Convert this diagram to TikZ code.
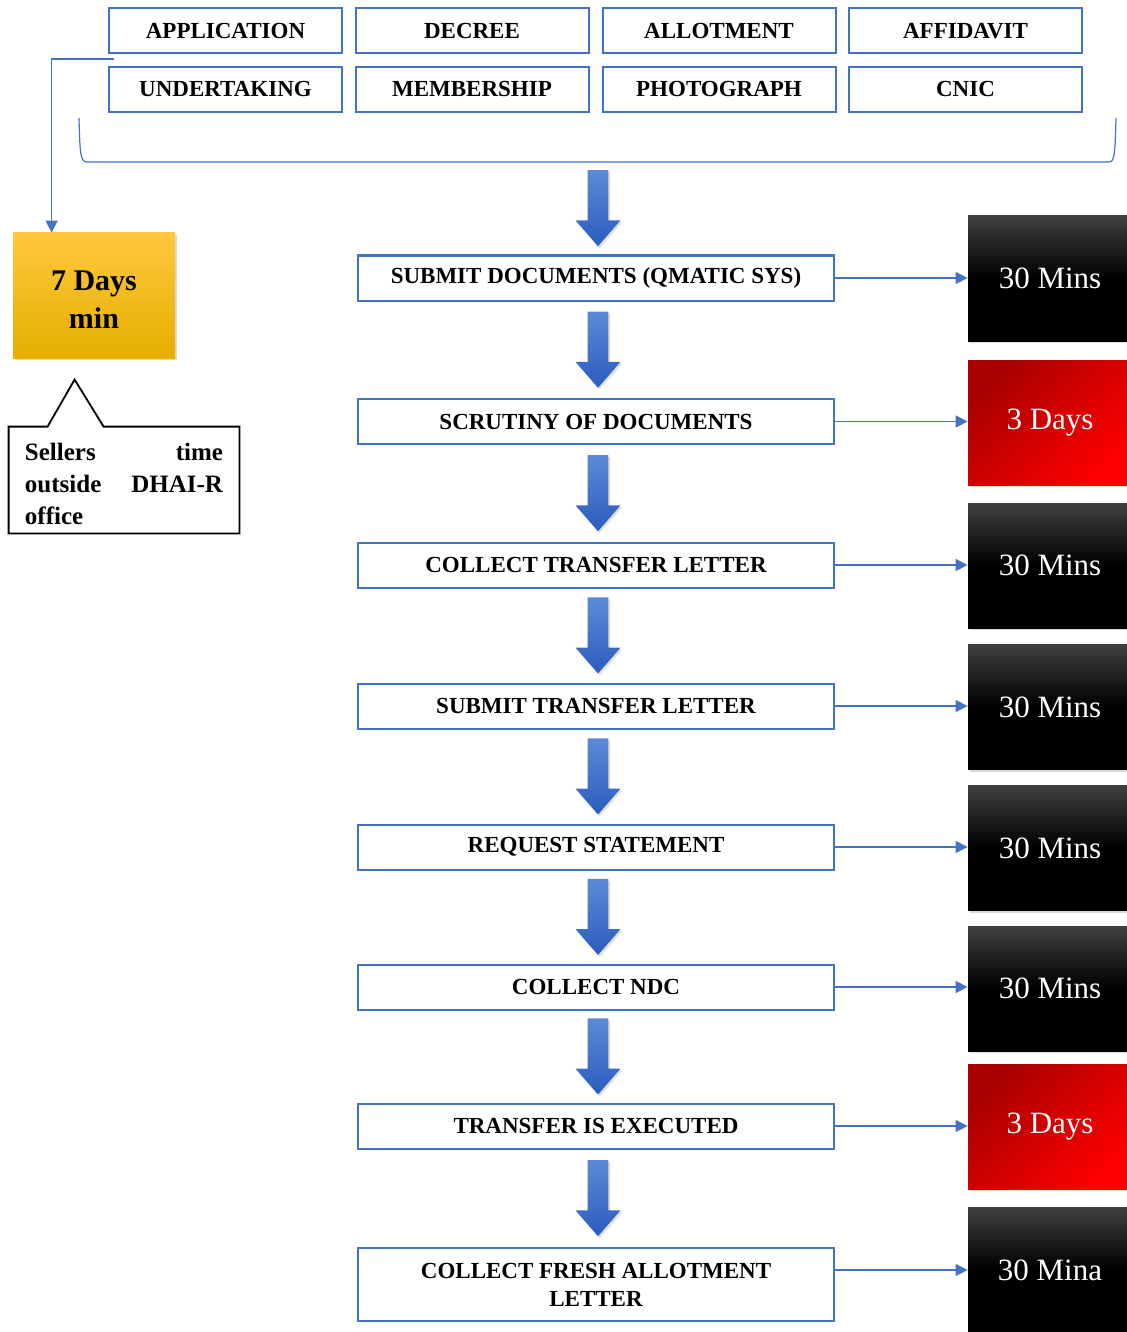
\documentclass[tikz,border=0pt]{standalone}
\usepackage{fontspec}
\setmainfont{Liberation Serif}
\usetikzlibrary{arrows.meta,shapes.arrows,shadows,calc}
\definecolor{boxblue}{HTML}{4472C4}
\definecolor{arrowtop}{HTML}{5B8AD6}
\definecolor{arrowbot}{HTML}{2C5CBE}
\definecolor{goldtop}{HTML}{FFC83D}
\definecolor{goldbot}{HTML}{E5AE00}
\definecolor{redtop}{HTML}{A80000}

\begin{document}
\begin{tikzpicture}[x=0.5pt, y=-0.5pt,
    doc/.style={draw=boxblue, line width=1pt, minimum width=116.5pt, minimum height=22.5pt, inner sep=0pt, font=\bfseries\fontsize{11.5}{14}\selectfont},
    stage/.style={doc, minimum width=238pt, align=center},
    tbox/.style={minimum width=82pt, minimum height=62.5pt, inner sep=0pt, text=white, font=\fontsize{15.5}{18}\selectfont, drop shadow={shadow xshift=0.8pt, shadow yshift=-1.2pt, opacity=0.3}},
    mins/.style={tbox, top color=black!75, bottom color=black, middle color=black},
    days/.style={tbox, left color=redtop, right color=red, shading angle=45},
    fatarrow/.style={single arrow, shape border rotate=270, minimum height=38pt, inner sep=5pt, single arrow head extend=6pt, single arrow tip angle=82, yshift=3pt, top color=arrowtop, bottom color=arrowbot, drop shadow={shadow xshift=0.8pt, shadow yshift=-1pt, opacity=0.25}},
    link/.style={draw=boxblue, line width=0.7pt, -{Triangle[length=6pt,width=6pt]}}]

    \useasboundingbox (0,0) rectangle (1126,1332);

    \node[doc] (app) at (225.5,31) {APPLICATION};
    \node[doc] (decree) at (472,31) {DECREE};
    \node[doc] (allot) at (719,31) {ALLOTMENT};
    \node[doc] (affid) at (965.5,31) {AFFIDAVIT};
    \node[doc] (undert) at (225.5,89.5) {UNDERTAKING};
    \node[doc] (member) at (472,89.5) {MEMBERSHIP};
    \node[doc] (photo) at (719,89.5) {PHOTOGRAPH};
    \node[doc] (cnic) at (965.5,89.5) {CNIC};

    \draw[boxblue, line width=0.6pt] (79,118) .. controls (80,152) and (80,162) .. (87,162) -- (1109,162) .. controls (1115,162) and (1115,152) .. (1116,118);
    \coordinate (br) at (598,162);
    \coordinate (split) at (114,59);

    \node[top color=goldtop, bottom color=goldbot, minimum width=81pt, minimum height=62.5pt, align=center, font=\bfseries\fontsize{15}{19}\selectfont, drop shadow={shadow xshift=0.8pt, shadow yshift=-1.2pt, opacity=0.3}] (wait) at (94,295.5) {\rule{0pt}{14pt}7 Days\\min};
    \node[minimum width=115pt, minimum height=53pt, text width=99pt, align=left, inner sep=0pt, font=\bfseries\fontsize{12.5}{16}\selectfont] (note) at (124,480) {\rule{0pt}{13pt}Sellers\hfill time\\outside\hfill DHAI-R\\office};
    \draw[line width=0.9pt] (note.north west) -- ($(note.north west)+(39,0)$) -- ($(note.north west)+(66,-47)$) -- ($(note.north west)+(95,0)$) -- (note.north east) -- (note.south east) -- (note.south west) -- cycle;

    \draw[link] (split) -| ([xshift=19.5pt]wait.north west);

    \node[stage] (s1) at (596,278) {SUBMIT DOCUMENTS (QMATIC SYS)};
    \node[stage] (s2) at (596,421.5) {SCRUTINY OF DOCUMENTS};
    \node[stage] (s3) at (596,565) {COLLECT TRANSFER LETTER};
    \node[stage] (s4) at (596,706) {SUBMIT TRANSFER LETTER};
    \node[stage] (s5) at (596,847) {REQUEST STATEMENT};
    \node[stage] (s6) at (596,987) {COLLECT NDC};
    \node[stage] (s7) at (596,1126) {TRANSFER IS EXECUTED};
    \node[stage, minimum height=36.5pt] (s8) at (596,1284.5) {COLLECT FRESH ALLOTMENT\\LETTER};

    \node[mins] (t1) at (1050,278.5) {30 Mins};
    \node[days] (t2) at (1050,422.5) {3 Days};
    \node[mins] (t3) at (1050,565.5) {30 Mins};
    \node[mins] (t4) at (1050,707) {30 Mins};
    \node[mins] (t5) at (1050,848) {30 Mins};
    \node[mins] (t6) at (1050,988.5) {30 Mins};
    \node[days] (t7) at (1050,1126.5) {3 Days};
    \node[mins] (t8) at (1050,1270) {30 Mina};

    \path (br) -- (br |- s1.north) node[midway, fatarrow] (fa1) {};
    \foreach \u/\v [count=\i from 2] in {s1/s2,s2/s3,s3/s4,s4/s5,s5/s6,s6/s7,s7/s8}
        \path ([xshift=1pt]\u.south) -- ([xshift=1pt]\v.north) node[midway, fatarrow] (fa\i) {};

    \foreach \i in {1,...,7}
        \draw[link] (s\i.east) -- (s\i.east -| t\i.west);
    \draw[link] (t8.west -| s8.east) -- (t8.west);

\end{tikzpicture}
\end{document}
